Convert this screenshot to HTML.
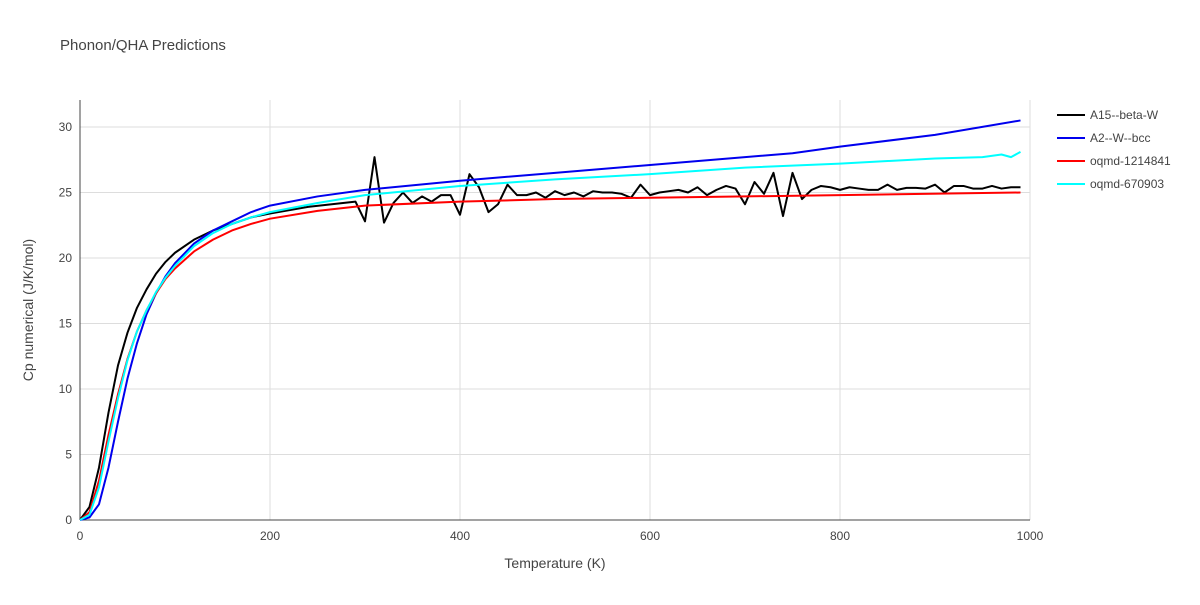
<!DOCTYPE html>
<html><head><meta charset="utf-8"><style>
body{margin:0;background:#fff;font-family:"Liberation Sans",sans-serif}
svg text{font-family:"Liberation Sans",sans-serif;fill:#444}
</style></head><body>
<svg id="c" width="1200" height="600">
<text x="60" y="50" font-size="15">Phonon/QHA Predictions</text>
<g id="grid"></g><g id="series"></g><g id="ticks"></g>
<text x="555" y="568" font-size="14" text-anchor="middle">Temperature (K)</text>
<text transform="translate(33,310) rotate(-90)" font-size="14" text-anchor="middle">Cp numerical (J/K/mol)</text>
<g id="legend"></g>
</svg>
<script>
const xTicks=[0,200,400,600,800,1000];
const yTicks=[0,5,10,15,20,25,30];
const seriesNames=["A15--beta-W","A2--W--bcc","oqmd-1214841","oqmd-670903"];
const seriesColors=["#000000","#0000ee","#ff0000","#00ffff"];
const blackT=[0,10,20,30,40,50,60,70,80,90,100,120,140,160,180,200,240,290,300,310,320,330,340,350,360,370,380,390,400,410,420,430,440,450,460,470,480,490,500,510,520,530,540,550,560,570,580,590,600,610,620,630,640,650,660,670,680,690,700,710,720,730,740,750,760,770,780,790,800,810,820,830,840,850,860,870,880,890,900,910,920,930,940,950,960,970,980,990];
const blackV=[0,1,4,8.2,11.8,14.3,16.2,17.6,18.8,19.7,20.4,21.4,22.1,22.6,23.1,23.4,23.9,24.3,22.8,27.7,22.7,24.2,25.0,24.2,24.7,24.3,24.8,24.8,23.3,26.4,25.4,23.5,24.1,25.6,24.8,24.8,25.0,24.6,25.1,24.8,25.0,24.7,25.1,25.0,25.0,24.9,24.6,25.6,24.8,25.0,25.1,25.2,25.0,25.4,24.8,25.2,25.5,25.3,24.1,25.8,24.9,26.5,23.2,26.5,24.5,25.2,25.5,25.4,25.2,25.4,25.3,25.2,25.2,25.6,25.2,25.35,25.35,25.3,25.6,25.0,25.5,25.5,25.3,25.3,25.5,25.3,25.4,25.4];
const blueT=[0,10,20,30,40,50,60,70,80,90,100,120,140,160,180,200,250,300,400,500,600,700,750,800,900,990];
const blueV=[0,0.2,1.2,4,7.5,10.8,13.5,15.7,17.3,18.6,19.6,21.1,22.1,22.8,23.5,24.0,24.7,25.2,25.9,26.5,27.1,27.7,28.0,28.5,29.4,30.5];
const redT=[0,10,20,30,40,50,60,70,80,90,100,120,140,160,180,200,250,300,400,500,600,800,990];
const redV=[0,0.6,3,6.5,9.6,12.3,14.4,16.0,17.3,18.4,19.2,20.5,21.4,22.1,22.6,23.0,23.6,24.0,24.3,24.5,24.6,24.8,25.0];
const cyanT=[0,10,20,30,40,50,60,70,80,90,100,120,140,160,180,200,250,300,400,500,600,700,800,900,950,970,980,990];
const cyanV=[0,0.4,2.5,6,9.3,12.2,14.4,16.0,17.4,18.5,19.4,20.9,21.9,22.6,23.1,23.5,24.2,24.8,25.5,26.0,26.4,26.9,27.2,27.6,27.7,27.9,27.7,28.1];
const X=t=>80+t*0.95, Y=v=>520-v*13.1;
const NS="http://www.w3.org/2000/svg";
function mk(tag,parent,attrs){const e=document.createElementNS(NS,tag);for(const k in attrs)e.setAttribute(k,attrs[k]);parent.appendChild(e);return e;}
const grid=document.getElementById('grid'),ticks=document.getElementById('ticks');
xTicks.forEach(t=>{
 if(t>0){const l=mk('line',grid,{x1:X(t),x2:X(t),y1:100,y2:520,stroke:'#dddddd'});
 
 }
 const tx=mk('text',ticks,{x:X(t),y:540,'font-size':12,'text-anchor':'middle'});tx.textContent=t;
 
 
});
yTicks.forEach(v=>{
 if(v>0){const l=mk('line',grid,{x1:80,x2:1030,y1:Y(v),y2:Y(v),stroke:'#dddddd'});
 
 }
 const tx=mk('text',ticks,{x:72,y:Y(v)+4,'font-size':12,'text-anchor':'end'});tx.textContent=v;
 
 
});
const ax=mk('line',grid,{x1:80,x2:1030,y1:520,y2:520,stroke:'#444'});


const ay=mk('line',grid,{x1:80,x2:80,y1:100,y2:520,stroke:'#444'});


const data=[[blackT,blackV],[blueT,blueV],[redT,redV],[cyanT,cyanV]];
const sg=document.getElementById('series'),lg=document.getElementById('legend');
data.forEach((d,i)=>{
 const pts=d[0].map((t,j)=>X(t)+','+Y(d[1][j])).join(' ');
 const p=mk('polyline',sg,{points:pts,fill:'none',stroke:seriesColors[i],'stroke-width':2,'stroke-linejoin':'round'});
 
 
 const y=115+i*23;
 const g=mk('g',lg,{});
 
 
 mk('line',g,{x1:1057,x2:1085,y1:y,y2:y,stroke:seriesColors[i],'stroke-width':2});
 const tx=mk('text',g,{x:1090,y:y+4,'font-size':12});tx.textContent=seriesNames[i];
});
</script>
</body></html>
